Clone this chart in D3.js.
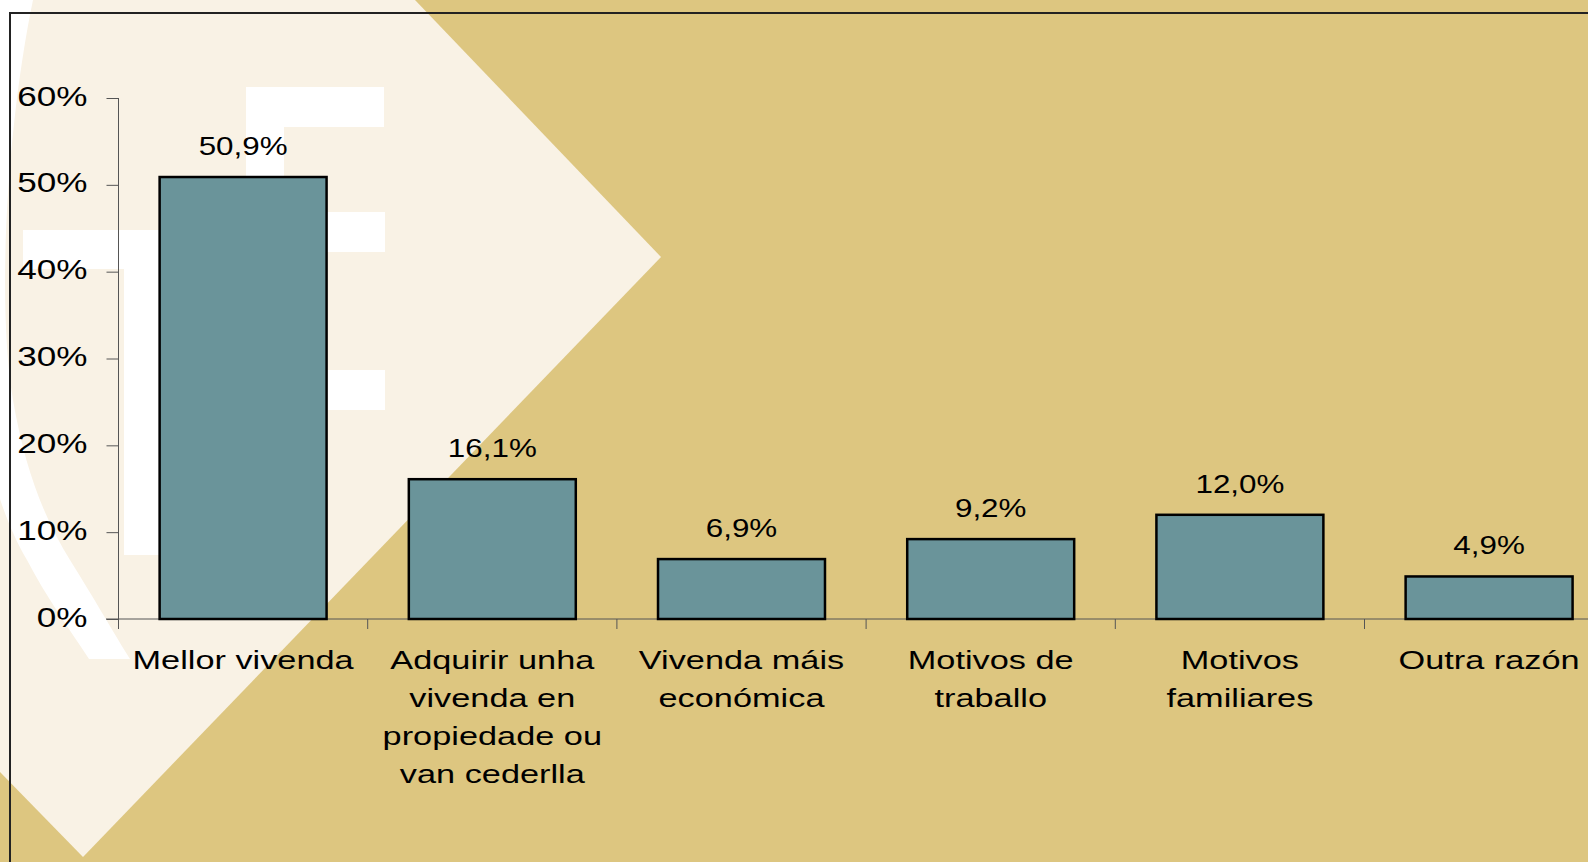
<!DOCTYPE html>
<html>
<head>
<meta charset="utf-8">
<script src="https://cdnjs.cloudflare.com/ajax/libs/d3/7.8.5/d3.min.js"></script>
<style>
  body { margin: 0; background: #ddc680; }
  svg { display: block; font-family: "Liberation Sans", Arial, sans-serif; }
</style>
</head>
<body>
<svg id="chart"></svg>
<script>
const categories = [
  "Mellor vivenda",
  "Adquirir unha\nvivenda en\npropiedade ou\nvan cederlla",
  "Vivenda máis\neconómica",
  "Motivos de\ntraballo",
  "Motivos\nfamiliares",
  "Outra razón"
];
const values = [50.9, 16.1, 6.9, 9.2, 12.0, 4.9];
const valueLabels = ["50,9%", "16,1%", "6,9%", "9,2%", "12,0%", "4,9%"];
const yTicks = [0, 10, 20, 30, 40, 50, 60];

const width = 1588;
const height = 862;

const svg = d3.select("#chart").attr("width", width).attr("height", height);

// background decoration
svg.append("rect").attr("width", width).attr("height", height).attr("fill", "#ddc680");
svg.append("path")
  .attr("d", "M0,0 L415,0 L661,257 L83,857 L0,772 Z")
  .attr("fill", "#f9f2e5");
svg.append("path")
  .attr("d", "M33,0 C8,120 -4,300 13,400 C25,470 45,520 70,560 C95,600 115,635 130,659 L89,659 C70,630 45,595 27,560 C15,540 5,515 -2,493 C-25,420 -40,250 -15,0 Z")
  .attr("fill", "#ffffff");
const white = [
  [23, 230, 180, 39], [124, 269, 60, 286],
  [246, 87, 138, 40], [246, 127, 38, 283],
  [246, 212, 139, 40], [246, 370, 139, 40]
];
svg.append("g").selectAll("rect").data(white).join("rect")
  .attr("x", d => d[0]).attr("y", d => d[1])
  .attr("width", d => d[2]).attr("height", d => d[3])
  .attr("fill", "#ffffff");

// frame
svg.append("rect")
  .attr("x", 10).attr("y", 13).attr("width", 1700).attr("height", 1000)
  .attr("fill", "none").attr("stroke", "#222").attr("stroke-width", 2);

const x = d3.scaleBand()
  .domain(categories)
  .range([118.5, 1613.7])
  .paddingInner(0.33)
  .paddingOuter(0.165);

const y = d3.scaleLinear().domain([0, 60]).range([619, 98]);

// y axis
const yAxis = d3.axisLeft(y)
  .tickValues(yTicks)
  .tickSize(12)
  .tickFormat(d => d + "%");

const yG = svg.append("g")
  .attr("transform", "translate(118.5,0)")
  .call(yAxis);
yG.select(".domain").remove();
yG.selectAll(".tick line").attr("stroke", "#555");
yG.selectAll(".tick text")
  .attr("font-size", 27)
  .attr("font-family", "Liberation Sans, Arial, sans-serif")
  .attr("fill", "#000")
  .attr("x", -31 / 1.3)
  .attr("dy", "0.26em")
  .attr("transform", "scale(1.3,1)");

svg.append("line")
  .attr("x1", 118.5).attr("x2", 118.5)
  .attr("y1", y(60)).attr("y2", y(0) + 10)
  .attr("stroke", "#555");

// x axis
svg.append("line")
  .attr("x1", 106).attr("x2", width)
  .attr("y1", y(0)).attr("y2", y(0))
  .attr("stroke", "#555");

const step = x.step();
svg.append("g").selectAll("line")
  .data(categories)
  .join("line")
  .attr("x1", d => x(d) - step * x.paddingInner() / 2)
  .attr("x2", d => x(d) - step * x.paddingInner() / 2)
  .attr("y1", y(0)).attr("y2", y(0) + 10)
  .attr("stroke", "#555");

// bars
svg.append("g").selectAll("rect")
  .data(values)
  .join("rect")
  .attr("x", (d, i) => x(categories[i]))
  .attr("y", d => y(d))
  .attr("width", x.bandwidth())
  .attr("height", d => y(0) - y(d))
  .attr("fill", "#6a949a")
  .attr("stroke", "#000")
  .attr("stroke-width", 2.5);

// value labels
svg.append("g").selectAll("g")
  .data(values)
  .join("g")
  .attr("transform", (d, i) => `translate(${x(categories[i]) + x.bandwidth() / 2},${y(d) - 22})`)
  .append("text")
  .attr("transform", "scale(1.23,1)")
  .attr("text-anchor", "middle")
  .attr("font-size", 25.5)
  .attr("fill", "#000")
  .text((d, i) => valueLabels[i]);

// category labels
const cat = svg.append("g").selectAll("g")
  .data(categories)
  .join("g")
  .attr("transform", d => `translate(${x(d) + x.bandwidth() / 2},669)`);

cat.selectAll("text")
  .data(d => d.split("\n"))
  .join("text")
  .attr("y", (d, i) => i * 38)
  .attr("transform", "scale(1.32,1)")
  .attr("text-anchor", "middle")
  .attr("font-size", 26)
  .attr("fill", "#000")
  .text(d => d);
</script>
</body>
</html>
